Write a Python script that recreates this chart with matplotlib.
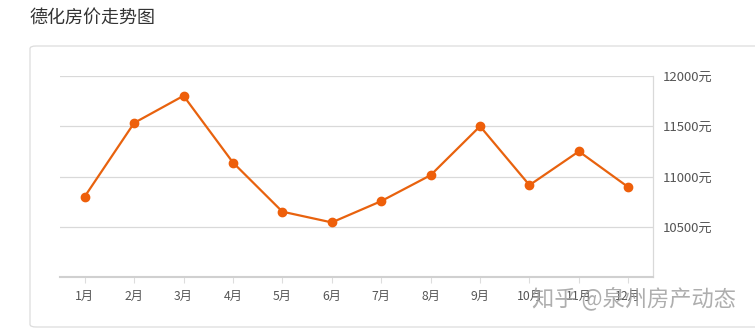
import matplotlib
matplotlib.use("Agg")
import matplotlib.pyplot as plt
from matplotlib.patches import FancyBboxPatch

plt.rcParams['font.family'] = ['Noto Sans CJK SC', 'DejaVu Sans']

months = ['1月', '2月', '3月', '4月', '5月', '6月', '7月', '8月', '9月', '10月', '11月', '12月']
prices = [10800, 11533, 11803, 11139, 10650, 10543, 10755, 11013, 11500, 10914, 11250, 10894]
yticks = [10500, 11000, 11500, 12000]
ytick_labels = ['10500元', '11000元', '11500元', '12000元']
title = '德化房价走势图'
watermark = '知乎 @泉州房产动态'

W, H = 755, 331
fig = plt.figure(figsize=(W / 100, H / 100), dpi=100)

# outer card
card = FancyBboxPatch((30 / W, 4 / H), (800 - 30) / W, (285 - 4) / H,
                      boxstyle="round,pad=0,rounding_size=0.008",
                      transform=fig.transFigure, facecolor='none',
                      edgecolor='#dcdcdc', linewidth=0.9, zorder=-5)
fig.patches.append(card)

fig.text(30 / W, 1 - 18 / H, title, fontsize=13, color='#333333', va='center', ha='left')

ax = fig.add_axes([60 / W, (H - 277) / H, (653 - 60) / W, (277 - 76) / H])
ax.patch.set_alpha(0)
x = list(range(len(months)))
ax.plot(x, prices, color='#e8620e', linewidth=1.6, marker='o', markersize=6,
        markerfacecolor='#ee5f0a', markeredgecolor='#ee5f0a', zorder=3)
ax.set_xlim(-0.5, len(months) - 0.5)
ax.set_ylim(10000, 12000)
ax.set_xticks(x)
ax.set_xticklabels(months, fontsize=8.8, color='#555555')
ax.set_yticks(yticks)
ax.set_yticklabels(ytick_labels, fontsize=9.5, color='#555555')
ax.yaxis.tick_right()
ax.tick_params(axis='y', length=0, pad=7)
ax.tick_params(axis='x', length=4, color='#dddddd', pad=5)
ax.grid(axis='y', color='#d9d9d9', linewidth=0.9)
ax.set_axisbelow(True)
for s in ['left', 'top']:
    ax.spines[s].set_visible(False)
ax.spines['bottom'].set_color('#d0d0d0')
ax.spines['bottom'].set_linewidth(1.5)
ax.spines['right'].set_color('#d9d9d9')
ax.spines['right'].set_linewidth(0.9)

fig.text(736 / W, 1 - 298 / H, watermark, fontsize=16, color='#a0a0a0', alpha=0.85,
         ha='right', va='center', zorder=10)

fig.savefig('out.png', dpi=100)
